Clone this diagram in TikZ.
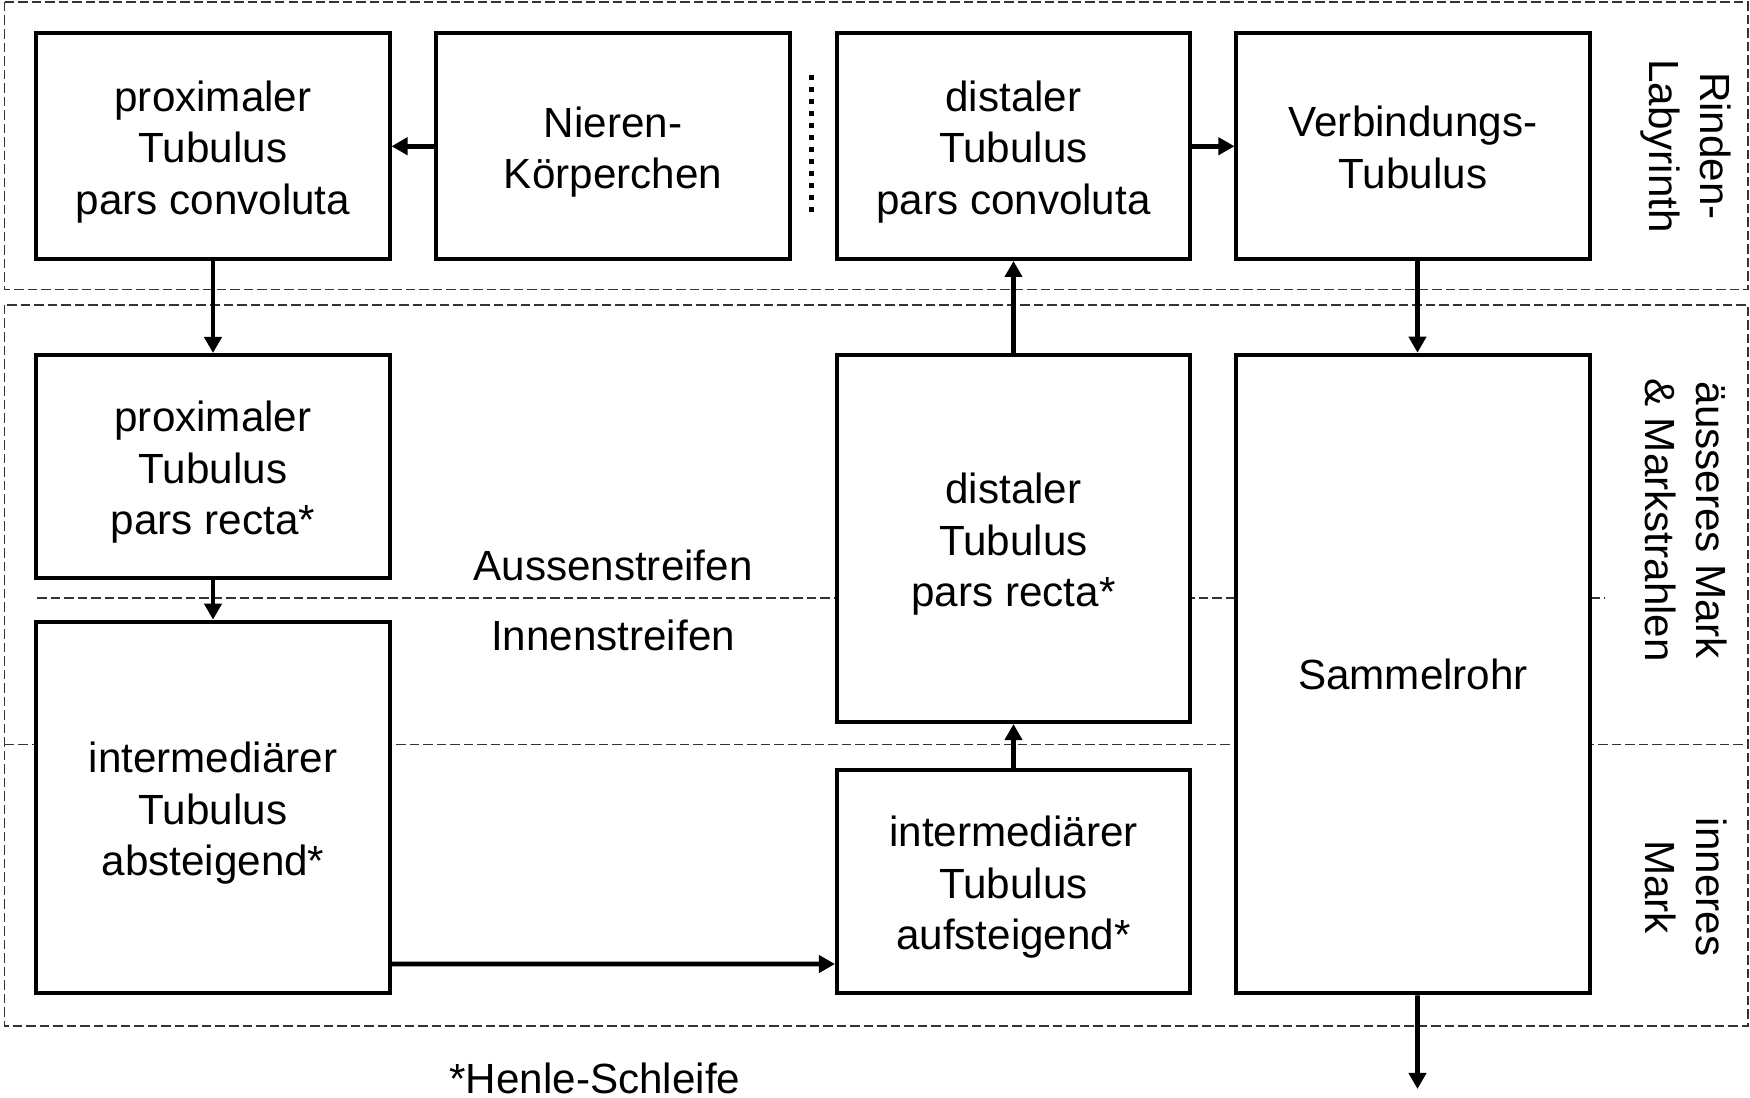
\documentclass[tikz,border=0pt]{standalone}
\usepackage{fontspec}
\setmainfont{Liberation Sans}
\usetikzlibrary{arrows.meta}
\begin{document}
\begin{tikzpicture}[x=0.01cm,y=-0.01cm,
  box/.style={draw, line width=1.1pt, fill=white, align=center, inner sep=0pt,
    minimum width=3.53cm, font=\fontsize{12}{14.6}\selectfont},
  txt/.style={align=center, inner sep=0pt, font=\fontsize{12}{14.6}\selectfont, yshift=-0.056cm},
  arr/.style={line width=1.35pt, -{Triangle[length=0.16cm,width=0.17cm]}},
  zone/.style={draw=black!80, line width=0.55pt, dash pattern=on 0.095cm off 0.04cm},
  dotline/.style={draw=black, line width=0.05cm, dash pattern=on 0.05cm off 0.07cm},
  lbl/.style={align=center, inner sep=0pt, font=\fontsize{12}{14.6}\selectfont}]
\useasboundingbox (0,0) rectangle (1750,1098);
% zones
\draw[zone] (4.5,2) rectangle (1748,289.5);
\draw[zone] (4.5,305) rectangle (1748,1026);
\draw[zone] (37,598) -- (1605,598);
\draw[zone] (4.5,744.5) -- (1748,744.5);
% boxes
\node[box, minimum height=2.255cm, label={[txt]center:{proximaler\\Tubulus\\pars convoluta}}] (b1) at (213,146.25) {};
\node[box, minimum height=2.255cm, label={[txt]center:{Nieren-\\Körperchen}}] (b2) at (613,146.25) {};
\node[box, minimum height=2.255cm, label={[txt]center:{distaler\\Tubulus\\pars convoluta}}] (b3) at (1013.5,146.25) {};
\node[box, minimum height=2.255cm, label={[txt, yshift=0.045cm]center:{Verbindungs-\\Tubulus}}] (b4) at (1413,146.25) {};
\node[box, minimum height=2.23cm, label={[txt]center:{proximaler\\Tubulus\\pars recta*}}] (pr) at (213,466.5) {};
\node[box, minimum height=3.716cm, label={[txt]center:{intermediärer\\Tubulus\\absteigend*}}] (ia) at (213,807.5) {};
\node[box, minimum height=3.67cm, label={[txt]center:{distaler\\Tubulus\\pars recta*}}] (dr) at (1013.5,538.5) {};
\node[box, minimum height=2.233cm, label={[txt]center:{intermediärer\\Tubulus\\aufsteigend*}}] (au) at (1013.5,881.7) {};
\node[box, minimum height=6.383cm] (sr) at (1413,674) {Sammelrohr};
% dotted separator
\coordinate (d1) at (811,75);
\coordinate (d2) at (811,213);
\draw[dotline] (d1) -- (d2);
% labels
\node[lbl] (aus) at (613,565) {Aussenstreifen};
\node[lbl] (inn) at (613,635) {Innenstreifen};
\node[lbl] (hen) at (595,1078) {*Henle-Schleife};
\node[lbl, rotate=-90] (z1) at (1686,146) {Rinden-\\Labyrinth};
\node[lbl, rotate=-90] (z2) at (1686,520) {äusseres Mark\\\& Markstrahlen};
\node[lbl, rotate=-90] (z3) at (1686,887) {inneres\\Mark};
% connectors
\coordinate (out) at (1417.5,1089);
\draw[arr] (b2.west) -- (b1.east);
\draw[arr] (b3.east) -- (b4.west);
\draw[arr] (b1.south) -- (pr.north);
\draw[arr] (pr.south) -- (ia.north);
\draw[arr] ([yshift=0.313cm]ia.south east) -- ([yshift=0.313cm]au.south west);
\draw[arr] (au.north) -- (dr.south);
\draw[arr] (dr.north) -- (b3.south);
\draw[arr] ([xshift=0.045cm]b4.south) -- ([xshift=0.045cm]sr.north);
\draw[arr] ([xshift=0.045cm]sr.south) -- (out);
\end{tikzpicture}
\end{document}
